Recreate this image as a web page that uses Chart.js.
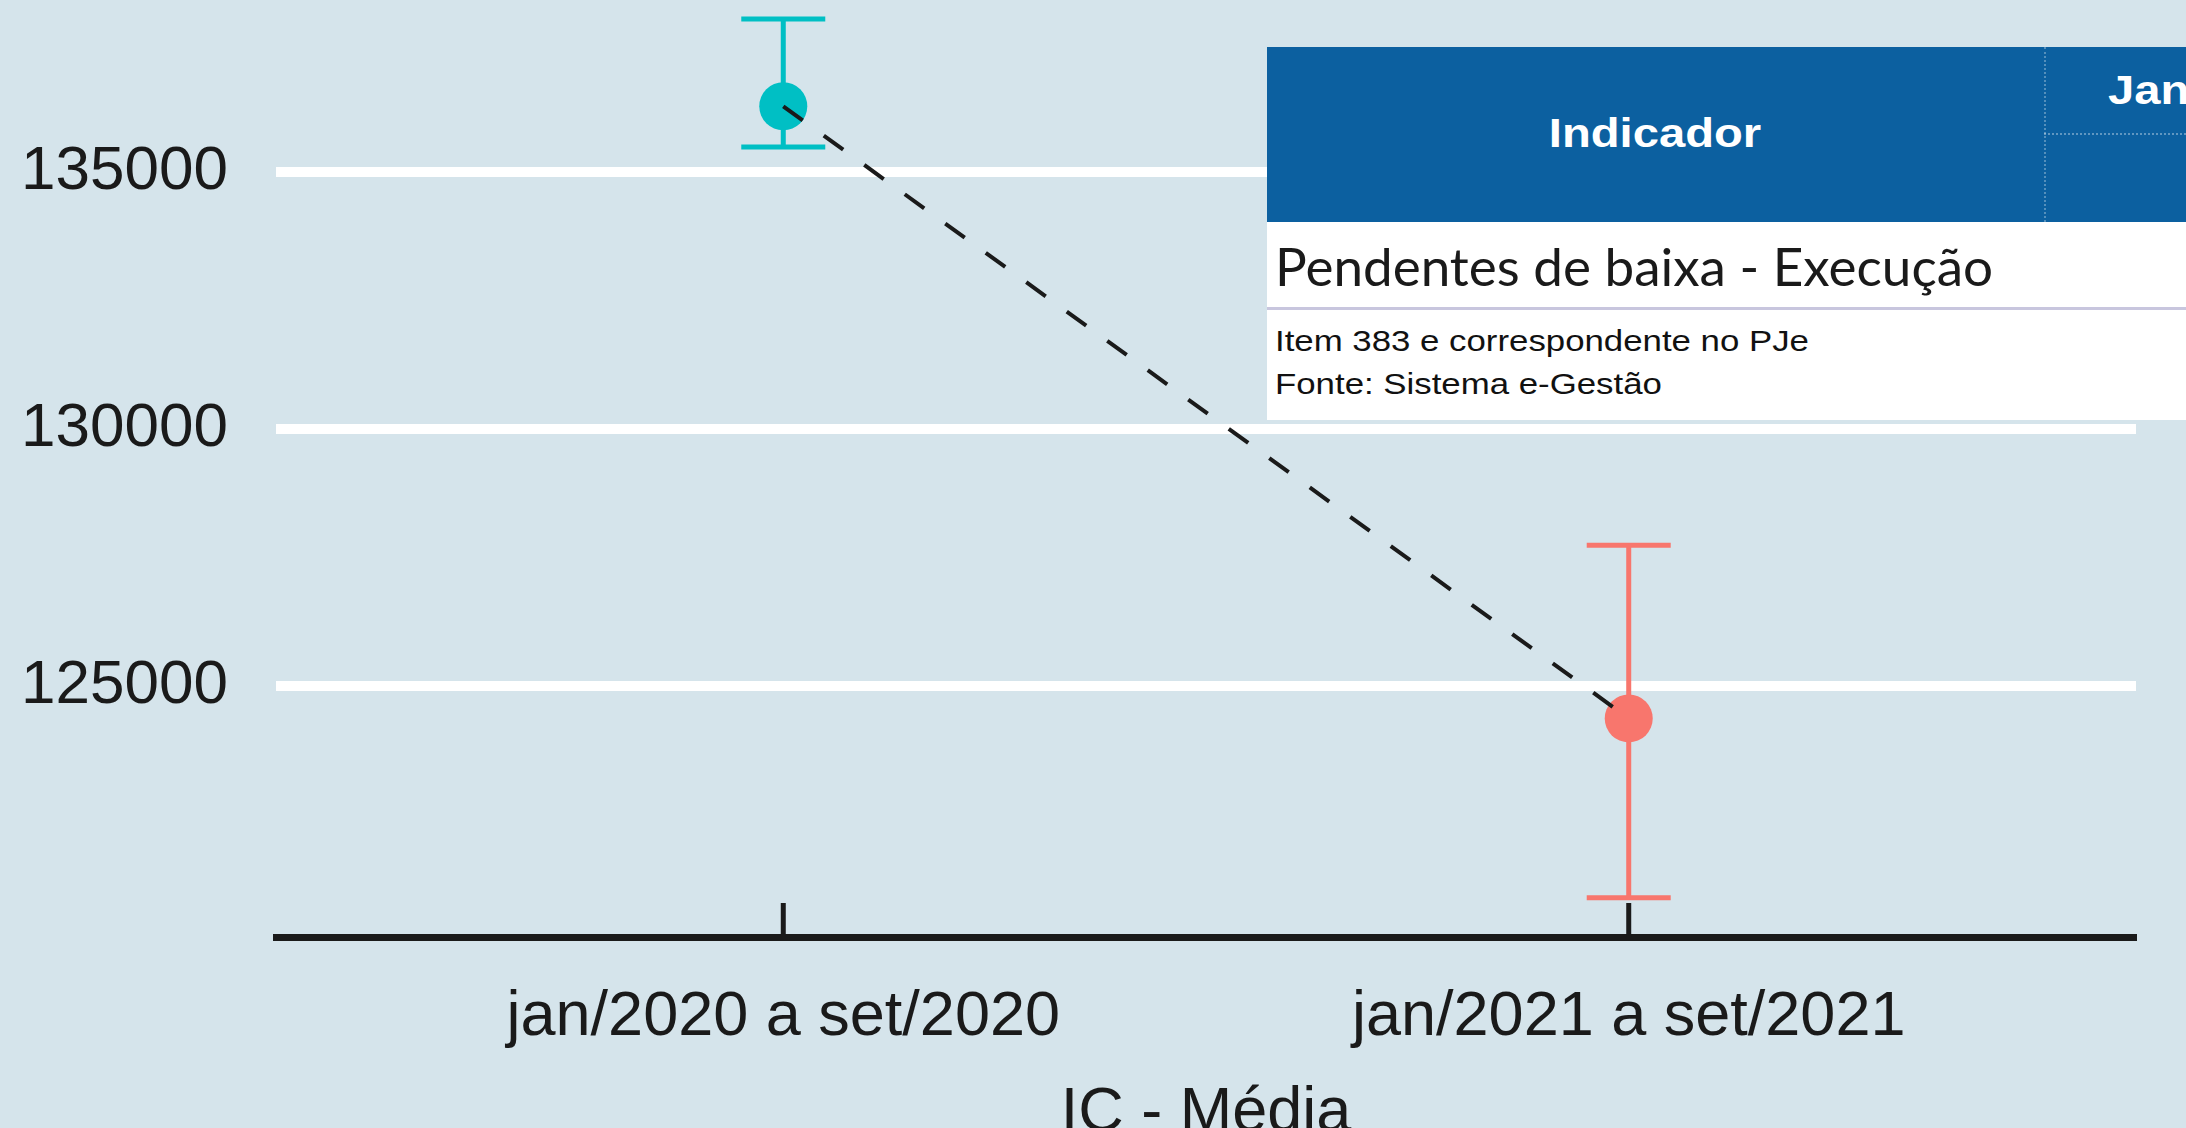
<!DOCTYPE html>
<html lang="pt-BR">
<head>
<meta charset="utf-8">
<title>IC - Média</title>
<script src="https://cdn.jsdelivr.net/npm/chart.js@4.4.1/dist/chart.umd.min.js"></script>
<style>
	html, body { margin: 0; padding: 0; overflow: hidden; background: #d5e4eb; }
	#wrap { position: relative; width: 2186px; height: 1128px; }
	#tabela { position: absolute; left: 1267px; top: 47px; width: 919px; height: 373px; background: #fff; overflow: hidden; font-family: 'Liberation Sans', Arial, sans-serif; }
	#tabela .cab { position: absolute; left: 0; top: 0; width: 919px; height: 175px; background: #0c60a0; }
	#tabela .div { position: absolute; left: 777px; top: 0; width: 0; height: 175px; border-left: 2px dotted rgba(255,255,255,0.3); }
	#tabela .tra { position: absolute; left: 777px; top: 86px; width: 142px; height: 0; border-top: 2px dotted rgba(255,255,255,0.35); }
	#tabela .t { position: absolute; white-space: nowrap; line-height: 1; }
	#tabela .ind { left: 0; width: 777px; top: 66px; text-align: center; color: #fff; font-weight: bold; font-size: 40px; }
	#tabela .ind span { display: inline-block; transform: scaleX(1.18); }
	#tabela .jan { left: 841px; top: 23px; color: #fff; font-weight: bold; font-size: 40px; transform: scaleX(1.18); transform-origin: left; }
	#tabela .nome { left: 8px; top: 192px; font-family: Lato, 'Open Sans', sans-serif; font-size: 53px; color: #1a1a1a; }
	#tabela .linha { position: absolute; left: 0; top: 260px; width: 919px; height: 3px; background: #c8c6de; }
	#tabela .obs { left: 8px; font-size: 29px; color: #111; transform: scaleX(1.2); transform-origin: left; }
</style>
</head>
<body>
<div id="wrap">
	<canvas id="canvasIcMedia"></canvas>
	<div id="tabela">
		<div class="cab"></div>
		<div class="div"></div>
		<div class="tra"></div>
		<div class="t ind"><span>Indicador</span></div>
		<div class="t jan">Jan</div>
		<div class="t nome">Pendentes de baixa - Execução</div>
		<div class="linha"></div>
		<div class="t obs" style="top:280px">Item 383 e correspondente no PJe</div>
		<div class="t obs" style="top:323px">Fonte: Sistema e-Gestão</div>
	</div>
</div>
<script>
// dados
var periodos = ['jan/2020 a set/2020', 'jan/2021 a set/2021'];
var posicoes = [1, 2];
var medias = [136270, 124360];
var icInferior = [135480, 120870];
var icSuperior = [137970, 127730];
var ticksY = [125000, 130000, 135000];
var cores = ['#00BFC4', '#F8766D'];

Chart.defaults.font.family = "'Liberation Sans', Arial, sans-serif";
Chart.defaults.color = '#1a1a1a';

/***********************************************************************************************
 * plugins - fundo, barras de erro, marcas do eixo x
 ***********************************************************************************************/
var fundoPlugin = {
	id: 'fundo',
	beforeDraw: function(chart) {
		var ctx = chart.ctx;
		ctx.save();
		ctx.fillStyle = '#d5e4eb';
		ctx.fillRect(0, 0, chart.width, chart.height);
		ctx.restore();
	}
};

var barrasErroPlugin = {
	id: 'barrasErro',
	beforeDatasetsDraw: function(chart) {
		var ctx = chart.ctx;
		var xs = chart.scales.x;
		var ys = chart.scales.y;
		ctx.save();
		ctx.lineWidth = 5;
		for (var i = 0; i < posicoes.length; i++) {
			var x = xs.getPixelForValue(posicoes[i]);
			var yTop = ys.getPixelForValue(icSuperior[i]);
			var yBot = ys.getPixelForValue(icInferior[i]);
			ctx.strokeStyle = cores[i];
			ctx.beginPath();
			ctx.moveTo(x, yTop);
			ctx.lineTo(x, yBot);
			ctx.moveTo(x - 42, yTop);
			ctx.lineTo(x + 42, yTop);
			ctx.moveTo(x - 42, yBot);
			ctx.lineTo(x + 42, yBot);
			ctx.stroke();
		}
		ctx.restore();
	}
};

var marcasEixoPlugin = {
	id: 'marcasEixo',
	afterDatasetsDraw: function(chart) {
		var ctx = chart.ctx;
		var xs = chart.scales.x;
		var base = chart.chartArea.bottom;
		ctx.save();
		ctx.strokeStyle = '#1a1a1a';
		ctx.lineWidth = 5;
		for (var i = 0; i < posicoes.length; i++) {
			var x = xs.getPixelForValue(posicoes[i]);
			ctx.beginPath();
			ctx.moveTo(x, base);
			ctx.lineTo(x, base - 34);
			ctx.stroke();
		}
		ctx.restore();
	}
};

/***********************************************************************************************
 * IC - Média
 ***********************************************************************************************/
function graficoIcMedia() {
	var pontos = [];
	for (var i = 0; i < posicoes.length; i++) {
		pontos.push({ x: posicoes[i], y: medias[i] });
	}

	var config = new Chart(document.getElementById('canvasIcMedia'), {
		type: 'scatter',
		data: {
			datasets: [{
				data: pontos,
				showLine: true,
				borderColor: '#1a1a1a',
				borderWidth: 4,
				borderDash: [24, 26],
				pointRadius: 0,
				order: 0
			}, {
				data: pontos,
				pointRadius: 24,
				pointBorderWidth: 0,
				pointBackgroundColor: cores,
				order: 1
			}]
		},
		options: {
			responsive: true,
			maintainAspectRatio: false,
			animation: false,
			layout: { autoPadding: false, padding: { left: 0, right: 50, top: 0, bottom: 0 } },
			plugins: {
				legend: { display: false },
				tooltip: { enabled: false }
			},
			scales: {
				x: {
					type: 'linear',
					min: 0.4,
					max: 2.6,
					afterBuildTicks: function(scale) {
						scale.ticks = posicoes.map(function(v) { return { value: v }; });
					},
					afterFit: function(scale) {
						scale.height = 191;
						scale.paddingLeft = 0;
						scale.paddingRight = 0;
					},
					grid: { display: false },
					border: { display: true, color: '#1a1a1a', width: 7 },
					ticks: {
						autoSkip: false,
						maxRotation: 0,
						padding: 35,
						font: { size: 63 },
						callback: function(value) { return periodos[posicoes.indexOf(value)]; }
					},
					title: {
						display: true,
						text: 'IC - Média',
						font: { size: 63 },
						padding: { top: 0, bottom: -23 }
					}
				},
				y: {
					min: 120107,
					max: 138338,
					afterBuildTicks: function(scale) {
						scale.ticks = ticksY.map(function(v) { return { value: v }; });
					},
					afterFit: function(scale) {
						scale.width = 276;
						scale.paddingTop = 0;
						scale.paddingBottom = 0;
					},
					grid: { color: '#ffffff', lineWidth: 10, drawTicks: false },
					border: { display: false },
					ticks: {
						padding: 48,
						font: { size: 62 },
						callback: function(value) { return String(value); }
					}
				}
			}
		},
		plugins: [fundoPlugin, barrasErroPlugin, marcasEixoPlugin]
	});
}

graficoIcMedia();
</script>
</body>
</html>
